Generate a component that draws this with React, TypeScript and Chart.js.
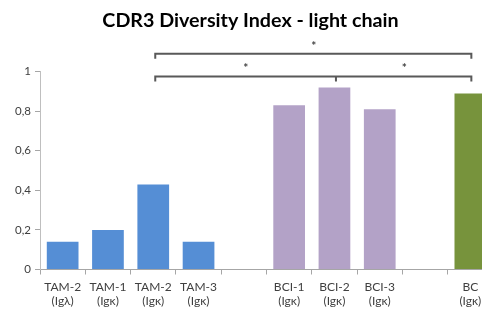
import React, { useEffect, useRef } from "react";
import { Chart, registerables } from "chart.js";

Chart.register(...registerables);

const titleText = "CDR3 Diversity Index - light chain";
const categories: (string | string[])[] = [
  ["TAM-2", "(Igλ)"],
  ["TAM-1", "(Igκ)"],
  ["TAM-2", "(Igκ)"],
  ["TAM-3", "(Igκ)"],
  "",
  ["BCI-1", "(Igκ)"],
  ["BCI-2", "(Igκ)"],
  ["BCI-3", "(Igκ)"],
  "",
  ["BC", "(Igκ)"],
];
const diversity: (number | null)[] = [0.14, 0.2, 0.43, 0.14, null, 0.83, 0.92, 0.81, null, 0.89];
const groupOf = ["TAM", "TAM", "TAM", "TAM", "", "BCI", "BCI", "BCI", "", "BC"];
const groupColors: Record<string, string> = { TAM: "#558ED5", BCI: "#B3A2C7", BC: "#77933C", "": "#000000" };
const yTicks = [0, 0.2, 0.4, 0.6, 0.8, 1];

// significance brackets: from/to category index, level in data units, optional middle index
const brackets = [
  { from: 2, to: 9, level: 1.09, mid: null as number | null, stars: [[2, 9]] },
  { from: 2, to: 9, level: 0.975, mid: 6 as number | null, stars: [[2, 6], [6, 9]] },
];

const bracketPlugin = {
  id: "brackets",
  afterDraw(chart: any) {
    const { ctx, scales } = chart;
    const x = scales.x;
    const y = scales.y;
    ctx.save();
    ctx.strokeStyle = "#595959";
    ctx.lineWidth = 2;
    ctx.fillStyle = "#404040";
    ctx.font = "bold 12px Lato";
    ctx.textAlign = "center";
    ctx.textBaseline = "middle";
    for (const b of brackets) {
      const x1 = x.getPixelForValue(b.from) + 2;
      const x2 = x.getPixelForValue(b.to) + 1;
      const yy = y.getPixelForValue(b.level);
      ctx.beginPath();
      ctx.moveTo(x1, yy + 5);
      ctx.lineTo(x1, yy);
      ctx.lineTo(x2, yy);
      ctx.lineTo(x2, yy + 5);
      if (b.mid !== null) {
        const xm = x.getPixelForValue(b.mid) + 1.5;
        ctx.moveTo(xm, yy);
        ctx.lineTo(xm, yy + 5);
      }
      ctx.stroke();
      for (const s of b.stars) {
        const xs = (x.getPixelForValue(s[0]) + x.getPixelForValue(s[1])) / 2 + 2;
        ctx.fillText("*", xs, yy - 8);
      }
    }
    ctx.restore();
  },
};

export default function App() {
  const ref = useRef<HTMLCanvasElement>(null);
  useEffect(() => {
    document.body.style.margin = "0";
    if (!ref.current) return;
    const chart = new Chart(ref.current, {
      type: "bar",
      data: {
        labels: categories,
        datasets: [
          {
            data: diversity,
            backgroundColor: groupOf.map((g) => groupColors[g]),
            categoryPercentage: 1,
            barPercentage: 0.7,
          },
        ],
      },
      options: {
        responsive: false,
        animation: false,
        layout: { padding: { left: 0, right: 7, top: 0, bottom: 0 } },
        plugins: {
          legend: { display: false },
          tooltip: { enabled: false },
          title: {
            display: true,
            text: titleText,
            color: "#000000",
            font: { family: "Lato", size: 19.7, weight: "bold" },
            padding: { top: 1, bottom: 39 },
          },
        },
        scales: {
          x: {
            afterFit: (s: any) => {
              s.height = 43.5;
            },
            grid: { display: true, drawOnChartArea: false, offset: true, tickLength: 5, color: "#A6A6A6" },
            border: { color: "#A6A6A6" },
            ticks: {
              color: "#404040",
              font: { family: "Lato", size: 12, lineHeight: 1.2 },
              padding: 5,
              maxRotation: 0,
              autoSkip: false,
            },
          },
          y: {
            min: 0,
            max: 1,
            afterFit: (s: any) => {
              s.width = 32;
            },
            afterBuildTicks: (s: any) => {
              s.ticks = yTicks.map((v) => ({ value: v }));
            },
            grid: { display: true, drawOnChartArea: false, tickLength: 5, color: "#A6A6A6" },
            border: { color: "#BFBFBF" },
            ticks: {
              color: "#404040",
              font: { family: "Lato", size: 11.5 },
              padding: 4,
              callback: (v: any) => (v === 0 || v === 1 ? String(v) : Number(v).toFixed(1).replace(".", ",")),
            },
          },
        },
      },
      plugins: [bracketPlugin],
    });
    return () => chart.destroy();
  }, []);
  return (
    <div style={{ width: 474, height: 305, padding: "8px 0 0 8px", overflow: "hidden" }}>
      <canvas ref={ref} width={492} height={305} style={{ display: "block" }} />
    </div>
  );
}
